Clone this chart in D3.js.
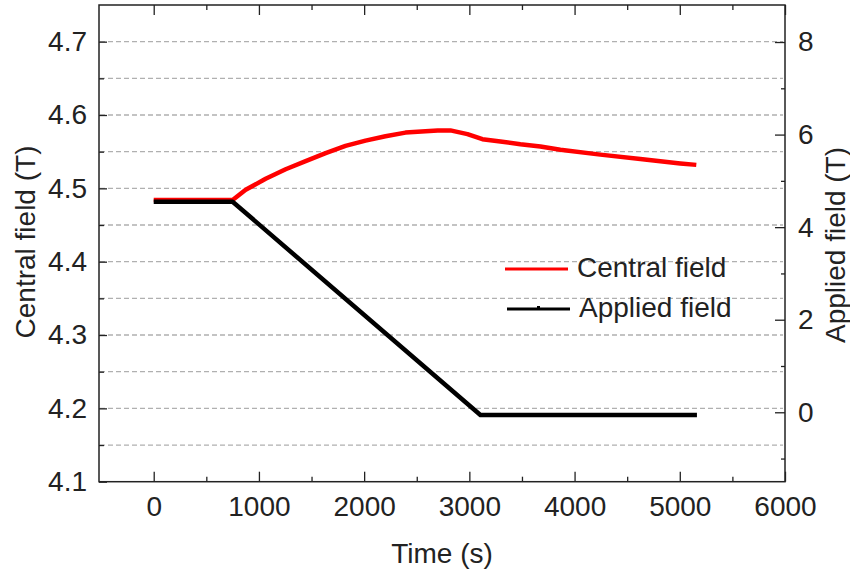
<!DOCTYPE html>
<html>
<head>
<meta charset="utf-8">
<script src="https://cdn.jsdelivr.net/npm/d3@7"></script>
<style>
  body { margin: 0; background: #fff; }
  svg { display: block; }
  text { font-family: "Liberation Sans", Arial, sans-serif; fill: #222; }
</style>
</head>
<body>
<svg id="chart" width="850" height="571"></svg>
<script>
// ---- Data ----
const centralTime = [0, 750, 874, 1064, 1254, 1444, 1634, 1823, 2013, 2203, 2393, 2583, 2700, 2820, 2982, 3124, 3295, 3485, 3675, 3865, 4245, 4625, 5005, 5157];
const centralField = [4.484, 4.484, 4.498, 4.513, 4.526, 4.537, 4.548, 4.558, 4.565, 4.571, 4.576, 4.578, 4.579, 4.579, 4.574, 4.567, 4.564, 4.560, 4.557, 4.5525, 4.546, 4.540, 4.534, 4.532];
const appliedTime = [0, 750, 3105, 5163];
const appliedField = [4.55, 4.55, -0.06, -0.06];

const xTicks = [0, 1000, 2000, 3000, 4000, 5000, 6000];
const xMinorTicks = [500, 1500, 2500, 3500, 4500, 5500];
const leftTicks = [4.1, 4.2, 4.3, 4.4, 4.5, 4.6, 4.7];
const leftMinorTicks = [4.15, 4.25, 4.35, 4.45, 4.55, 4.65];
const rightTicks = [0, 2, 4, 6, 8];
const rightMinorTicks = [-1, 1, 3, 5, 7];
const gridValues = [4.15, 4.2, 4.25, 4.3, 4.35, 4.4, 4.45, 4.5, 4.55, 4.6, 4.65, 4.7];
const legendLabels = ["Central field", "Applied field"];

// ---- Layout ----
const L = 99, R = 785, T = 5, B = 481.7;
const svg = d3.select("#chart");

const x = d3.scaleLinear().domain([-520, 6000]).range([L, R]);
const yL = d3.scaleLinear().domain([4.1, 4.75]).range([B, T]);
const yR = d3.scaleLinear().domain([-1.5, 8.8]).range([B, T]);

// gridlines
svg.append("g").selectAll("line").data(gridValues).join("line")
  .attr("x1", L + 1).attr("x2", R - 2)
  .attr("y1", d => yL(d)).attr("y2", d => yL(d))
  .attr("stroke", "#b0b0b0").attr("stroke-width", 1.3)
  .attr("stroke-dasharray", "5,3");

const fs = 28;
// bottom axis
svg.append("g").attr("transform", `translate(0,${B})`)
  .call(d3.axisBottom(x).tickValues(xTicks).tickSize(-10).tickPadding(14).tickFormat(d3.format("d")));
svg.append("g").attr("transform", `translate(0,${B})`)
  .call(d3.axisBottom(x).tickValues(xMinorTicks).tickSize(-5).tickFormat(""));
// top axis (mirror ticks)
svg.append("g").attr("transform", `translate(0,${T})`)
  .call(d3.axisTop(x).tickValues(xTicks).tickSize(-10).tickFormat(""));
svg.append("g").attr("transform", `translate(0,${T})`)
  .call(d3.axisTop(x).tickValues(xMinorTicks).tickSize(-5).tickFormat(""));
// left axis
svg.append("g").attr("transform", `translate(${L},0)`)
  .call(d3.axisLeft(yL).tickValues(leftTicks).tickSize(-8).tickPadding(12).tickFormat(d3.format(".1f")));
svg.append("g").attr("transform", `translate(${L},0)`)
  .call(d3.axisLeft(yL).tickValues(leftMinorTicks).tickSize(-5).tickFormat(""));
// right axis
svg.append("g").attr("transform", `translate(${R},0)`)
  .call(d3.axisRight(yR).tickValues(rightTicks).tickSize(-10).tickPadding(13).tickFormat(d3.format("d")));
svg.append("g").attr("transform", `translate(${R},0)`)
  .call(d3.axisRight(yR).tickValues(rightMinorTicks).tickSize(-4).tickFormat(""));

svg.selectAll(".domain").remove();
svg.selectAll(".tick line").attr("stroke", "#222").attr("stroke-width", 1.3);
svg.selectAll(".tick text").attr("font-size", fs).attr("font-family", "Liberation Sans, Arial, sans-serif").attr("fill", "#222");

// frame
svg.append("rect").attr("x", L).attr("y", T).attr("width", R - L).attr("height", B - T)
  .attr("fill", "none").attr("stroke", "#222").attr("stroke-width", 1.5);

// lines
const redLine = d3.line().x((d, i) => x(centralTime[i])).y(d => yL(d));
svg.append("path").datum(centralField).attr("d", redLine)
  .attr("fill", "none").attr("stroke", "#ff0000").attr("stroke-width", 4.5)
  .attr("stroke-linejoin", "round");
const blackLine = d3.line().x((d, i) => x(appliedTime[i])).y(d => yR(d));
svg.append("path").datum(appliedField).attr("d", blackLine)
  .attr("fill", "none").attr("stroke", "#000").attr("stroke-width", 4.5)
  .attr("stroke-linejoin", "round");

// legend
const lg = svg.append("g");
lg.append("line").attr("x1", 505).attr("x2", 568).attr("y1", 269).attr("y2", 269)
  .attr("stroke", "#ff0000").attr("stroke-width", 3);
lg.append("text").attr("x", 577).attr("y", 277).attr("font-size", fs).text(legendLabels[0]);
lg.append("line").attr("x1", 507).attr("x2", 570).attr("y1", 309).attr("y2", 309)
  .attr("stroke", "#000").attr("stroke-width", 3);
lg.append("rect").attr("x", 537).attr("y", 306).attr("width", 3).attr("height", 3).attr("fill", "#000");
lg.append("text").attr("x", 579).attr("y", 317).attr("font-size", fs).text(legendLabels[1]);

// axis titles
svg.append("text").attr("x", (L + R) / 2).attr("y", 563).attr("text-anchor", "middle")
  .attr("font-size", fs).text("Time (s)");
svg.append("text").attr("transform", "translate(35,242) rotate(-90)").attr("text-anchor", "middle")
  .attr("font-size", fs).text("Central field (T)");
svg.append("text").attr("transform", "translate(845,245) rotate(-90)").attr("text-anchor", "middle")
  .attr("font-size", fs).text("Applied field (T)");
</script>
</body>
</html>
